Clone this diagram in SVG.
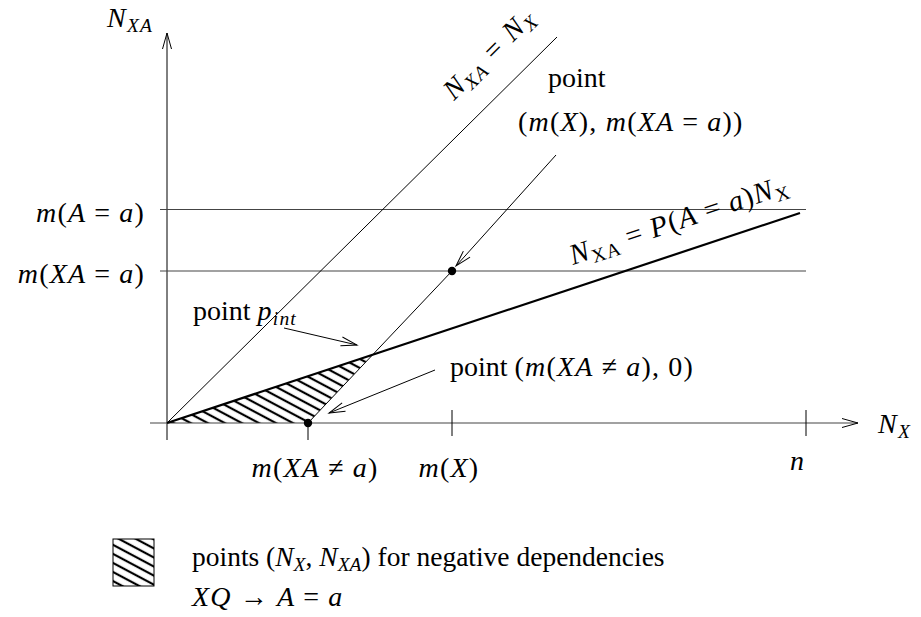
<svg xmlns="http://www.w3.org/2000/svg" width="921" height="617" viewBox="0 0 921 617">
<style>
 text{font-family:"Liberation Serif","Times New Roman",serif;font-size:28px;fill:#000}
 .i{font-style:italic}
 .s{font-size:19.5px}
 .m{letter-spacing:1.2px}
 .ln{stroke:#000;stroke-width:1;fill:none}
 .gl{stroke:#444;stroke-width:1.2;fill:none}
 .thick{stroke:#000;stroke-width:2.2;fill:none}
</style>
<defs>
 <marker id="arr" markerUnits="userSpaceOnUse" markerWidth="20" markerHeight="12" refX="0" refY="0" viewBox="-17 -6 20 12" orient="auto" overflow="visible">
  <path d="M-16,-4.5 L0,0 L-16,4.5" fill="none" stroke="#000" stroke-width="1"/>
 </marker>
 <pattern id="hatch" patternUnits="userSpaceOnUse" width="8" height="8" patternTransform="rotate(28)">
  <line x1="-1" y1="4" x2="9" y2="4" stroke="#000" stroke-width="2.2"/>
 </pattern>
</defs>
<rect width="921" height="617" fill="#fff"/>

<g id="region">
 <polygon points="167,423 372,355 308,423" fill="url(#hatch)"/>
</g>

<g id="connectors">
 <line class="ln" x1="167" y1="440" x2="167" y2="33" marker-end="url(#arr)"/>
 <line class="gl" x1="150" y1="423" x2="858" y2="423" marker-end="url(#arr)"/>
 <line class="gl" x1="160" y1="209.5" x2="806" y2="209.5"/>
 <line class="gl" x1="160" y1="271" x2="806" y2="271"/>
 <line class="ln" x1="308" y1="423" x2="308" y2="440"/>
 <line class="ln" x1="452" y1="410" x2="452" y2="436"/>
 <line class="ln" x1="806" y1="410" x2="806" y2="436"/>
 <line class="ln" x1="167" y1="423" x2="557" y2="37"/>
 <line class="ln" x1="308" y1="423" x2="452" y2="271"/>
 <line class="thick" x1="167" y1="423" x2="800" y2="213"/>
 <line class="ln" x1="556" y1="155" x2="456" y2="266" marker-end="url(#arr)"/>
 <line class="ln" x1="284" y1="328" x2="357" y2="345" marker-end="url(#arr)"/>
 <line class="ln" x1="435" y1="370" x2="329" y2="413" marker-end="url(#arr)"/>
 <circle cx="308" cy="423" r="4.2" fill="#000"/>
 <circle cx="452" cy="271" r="4.2" fill="#000"/>
</g>

<g id="axis-labels">
 <text class="m" x="107" y="27"><tspan class="i">N</tspan><tspan class="i s" dy="5">XA</tspan></text>
 <text class="m" x="878" y="433"><tspan class="i">N</tspan><tspan class="i s" dy="5">X</tspan></text>
 <text class="m" x="145" y="222" text-anchor="end"><tspan class="i">m</tspan>(<tspan class="i">A</tspan><tspan dx="8">=</tspan><tspan class="i" dx="8">a</tspan>)</text>
 <text class="m" x="145" y="283" text-anchor="end"><tspan class="i">m</tspan>(<tspan class="i">XA</tspan><tspan dx="8">=</tspan><tspan class="i" dx="8">a</tspan>)</text>
 <text class="m" x="315" y="477" text-anchor="middle"><tspan class="i">m</tspan>(<tspan class="i">XA</tspan><tspan dx="8">≠</tspan><tspan class="i" dx="8">a</tspan>)</text>
 <text class="m" x="449" y="477" text-anchor="middle"><tspan class="i">m</tspan>(<tspan class="i">X</tspan>)</text>
 <text class="i" x="797" y="470" text-anchor="middle">n</text>
</g>

<g id="line-labels">
 <text class="m" transform="translate(454,101) rotate(-44.7)"><tspan class="i">N</tspan><tspan class="i s" dy="5">XA</tspan><tspan dy="-5" dx="10">=</tspan><tspan class="i" dx="10">N</tspan><tspan class="i s" dy="5">X</tspan></text>
 <text class="m" style="font-size:29px" transform="translate(573,265) rotate(-18.4)"><tspan class="i">N</tspan><tspan class="s" dy="5">XA</tspan><tspan dy="-5" dx="8">=</tspan><tspan class="i" dx="8">P</tspan>(<tspan class="i">A</tspan><tspan dx="8">=</tspan><tspan class="i" dx="8">a</tspan>)<tspan class="i">N</tspan><tspan class="s" dy="5">X</tspan></text>
</g>

<g id="point-labels">
 <text x="548" y="87">point</text>
 <text class="m" x="518" y="131">(<tspan class="i">m</tspan>(<tspan class="i">X</tspan>), <tspan class="i">m</tspan>(<tspan class="i">XA</tspan><tspan dx="8">=</tspan><tspan class="i" dx="8">a</tspan>))</text>
 <text x="193" y="320">point <tspan class="i m">p</tspan><tspan class="i s m" dy="5">int</tspan></text>
 <text x="450" y="376">point <tspan class="m">(<tspan class="i">m</tspan>(<tspan class="i">XA</tspan><tspan dx="8">≠</tspan><tspan class="i" dx="8">a</tspan>), 0)</tspan></text>
</g>

<g id="legend">
 <rect x="113" y="539" width="41" height="47" fill="url(#hatch)" stroke="#000" stroke-width="1"/>
 <text x="192" y="566" style="font-size:27.5px">points (<tspan class="i">N</tspan><tspan class="i s" dy="5">X</tspan><tspan dy="-5">, </tspan><tspan class="i">N</tspan><tspan class="i s" dy="5">XA</tspan><tspan dy="-5">) for negative dependencies</tspan></text>
 <text class="m" x="192" y="606"><tspan class="i">XQ</tspan><tspan dx="8">→</tspan><tspan class="i" dx="8">A</tspan><tspan dx="8">=</tspan><tspan class="i" dx="8">a</tspan></text>
</g>
</svg>
